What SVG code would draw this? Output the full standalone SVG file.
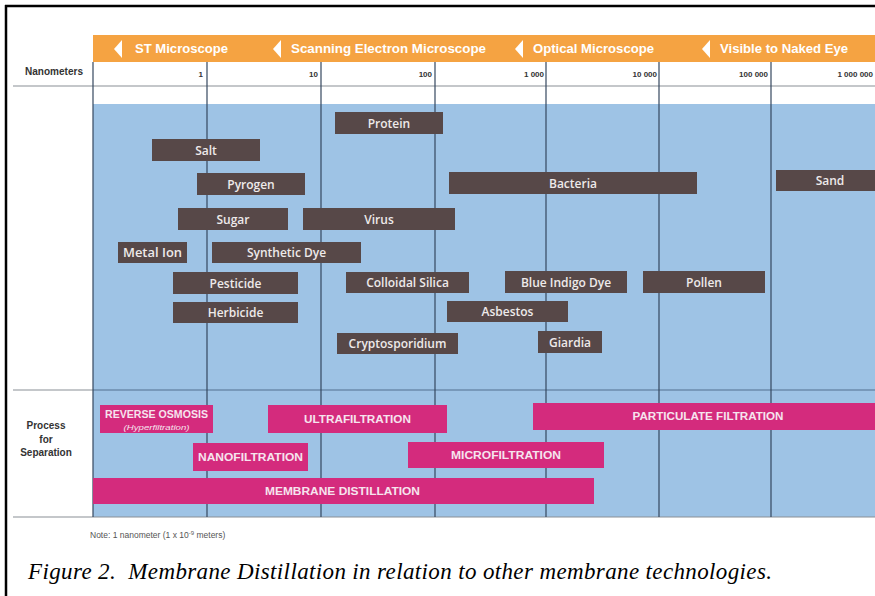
<svg xmlns="http://www.w3.org/2000/svg" width="875" height="596" viewBox="0 0 875 596">
  <defs>
    <style>
      .band { fill: #f5a342; }
      .bandtxt { font-family: "Liberation Sans", Arial, sans-serif; font-size: 12px; font-weight: bold; fill: #ffffff; }
      .tri { fill: #ffffff; }
      .tick { font-family: "Liberation Sans", Arial, sans-serif; font-size: 8px; font-weight: bold; fill: #333333; text-anchor: end; }
      .hdr { font-family: "Liberation Sans", Arial, sans-serif; font-size: 10px; font-weight: bold; fill: #333333; }
      .vl { stroke: #34475e; stroke-width: 1.2; }
      .hl { stroke: #8a8f96; stroke-width: 1.2; }
      .dark rect { fill: #574848; }
      .dark text { font-family: "Open Sans", "Liberation Sans", sans-serif; font-size: 12px; font-weight: 600; fill: #eeeaea; text-anchor: middle; }
      .proc rect { fill: #d42b7d; }
      .proc text { font-family: "Liberation Sans", Arial, sans-serif; font-size: 10.5px; font-weight: bold; fill: #f6e4ee; text-anchor: middle; }
      .note { font-family: "Liberation Sans", Arial, sans-serif; font-size: 8.5px; fill: #555555; }
      .cap { font-family: "Liberation Serif", "Times New Roman", Times, serif; font-size: 23px; font-style: italic; fill: #000000; }
    </style>
  </defs>

  <rect x="0" y="0" width="875" height="596" fill="#ffffff"/>

  <!-- frame -->
  <g id="frame">
    <line x1="5" y1="6" x2="875" y2="6" stroke="#000" stroke-width="2.5"/>
    <line x1="6" y1="5" x2="6" y2="596" stroke="#000" stroke-width="2.5"/>
  </g>

  <!-- orange microscope band -->
  <g id="band">
    <rect class="band" x="93" y="35" width="782" height="27"/>
    <polygon class="tri" points="122,40 114,49 122,58"/>
    <text class="bandtxt" x="135" y="53" textLength="93" lengthAdjust="spacingAndGlyphs">ST Microscope</text>
    <polygon class="tri" points="281,40 273,49 281,58"/>
    <text class="bandtxt" x="291" y="53" textLength="195" lengthAdjust="spacingAndGlyphs">Scanning Electron Microscope</text>
    <polygon class="tri" points="523,40 515,49 523,58"/>
    <text class="bandtxt" x="533" y="53" textLength="121" lengthAdjust="spacingAndGlyphs">Optical Microscope</text>
    <polygon class="tri" points="710,40 702,49 710,58"/>
    <text class="bandtxt" x="720" y="53" textLength="128" lengthAdjust="spacingAndGlyphs">Visible to Naked Eye</text>
  </g>

  <!-- blue field -->
  <rect id="field" x="93" y="104" width="782" height="413" fill="#9ec3e5"/>

  <!-- grid lines (no connectors in this chart) -->
  <g id="connectors">
    <line class="hl" x1="13" y1="86" x2="875" y2="86"/>
    <line class="hl" x1="13" y1="390" x2="93" y2="390"/>
    <line x1="93" y1="390" x2="875" y2="390" stroke="#52708f" stroke-width="1.2"/>
    <line class="hl" x1="13" y1="517" x2="875" y2="517"/>
    <line class="vl" x1="93" y1="62" x2="93" y2="517"/>
    <line class="vl" x1="207" y1="62" x2="207" y2="517"/>
    <line class="vl" x1="321" y1="62" x2="321" y2="517"/>
    <line class="vl" x1="435" y1="62" x2="435" y2="517"/>
    <line class="vl" x1="546" y1="62" x2="546" y2="517"/>
    <line class="vl" x1="659" y1="62" x2="659" y2="517"/>
    <line class="vl" x1="771" y1="62" x2="771" y2="517"/>
  </g>

  <!-- scale -->
  <g id="scale">
    <text class="hdr" x="25" y="75" textLength="58" lengthAdjust="spacingAndGlyphs">Nanometers</text>
    <text class="tick" x="203" y="77">1</text>
    <text class="tick" x="318" y="77">10</text>
    <text class="tick" x="432" y="77">100</text>
    <text class="tick" x="544" y="77">1 000</text>
    <text class="tick" x="657" y="77">10 000</text>
    <text class="tick" x="768" y="77">100 000</text>
    <text class="tick" x="873" y="77">1 000 000</text>
  </g>

  <!-- particles -->
  <g class="dark">
    <g id="protein"><rect x="335" y="112" width="108" height="22"/><text x="389" y="127.5">Protein</text></g>
    <g id="salt"><rect x="152" y="139" width="108" height="22"/><text x="206" y="154.5">Salt</text></g>
    <g id="pyrogen"><rect x="197" y="173" width="108" height="22"/><text x="251" y="188.5">Pyrogen</text></g>
    <g id="bacteria"><rect x="449" y="172" width="248" height="22"/><text x="573" y="187.5">Bacteria</text></g>
    <g id="sand"><rect x="776" y="170" width="99" height="21"/><text x="830" y="185">Sand</text></g>
    <g id="sugar"><rect x="178" y="208" width="110" height="22"/><text x="233" y="223.5">Sugar</text></g>
    <g id="virus"><rect x="303" y="208" width="152" height="22"/><text x="379" y="223.5">Virus</text></g>
    <g id="metal-ion"><rect x="118" y="242" width="69" height="21"/><text x="152.5" y="257" textLength="59" lengthAdjust="spacingAndGlyphs">Metal Ion</text></g>
    <g id="synthetic-dye"><rect x="212" y="242" width="149" height="21"/><text x="286.5" y="257">Synthetic Dye</text></g>
    <g id="pesticide"><rect x="173" y="272" width="125" height="22"/><text x="235.5" y="287.5">Pesticide</text></g>
    <g id="colloidal-silica"><rect x="346" y="272" width="123" height="21"/><text x="407.5" y="287">Colloidal Silica</text></g>
    <g id="blue-indigo-dye"><rect x="505" y="271" width="122" height="22"/><text x="566" y="286.5">Blue Indigo Dye</text></g>
    <g id="pollen"><rect x="643" y="271" width="122" height="22"/><text x="704" y="286.5">Pollen</text></g>
    <g id="herbicide"><rect x="173" y="302" width="125" height="21"/><text x="235.5" y="317">Herbicide</text></g>
    <g id="asbestos"><rect x="447" y="301" width="121" height="21"/><text x="507.5" y="316">Asbestos</text></g>
    <g id="cryptosporidium"><rect x="337" y="333" width="121" height="21"/><text x="397.5" y="348">Cryptosporidium</text></g>
    <g id="giardia"><rect x="538" y="331" width="64" height="22"/><text x="570" y="346.5">Giardia</text></g>
  </g>

  <!-- process label -->
  <g id="process-label" class="hdr">
    <text x="46" y="429" text-anchor="middle">Process</text>
    <text x="46" y="443" text-anchor="middle">for</text>
    <text x="46" y="456" text-anchor="middle">Separation</text>
  </g>

  <!-- processes -->
  <g class="proc">
    <g id="reverse-osmosis">
      <rect x="100" y="405" width="113" height="28"/>
      <text x="156.5" y="418" textLength="103" lengthAdjust="spacingAndGlyphs">REVERSE OSMOSIS</text>
      <text x="156.5" y="430" style="font-size:6.5px;font-weight:normal;font-style:italic" textLength="66" lengthAdjust="spacingAndGlyphs">(Hyperfiltration)</text>
    </g>
    <g id="ultrafiltration">
      <rect x="268" y="405" width="179" height="28"/>
      <text x="357.5" y="422.5" textLength="107" lengthAdjust="spacingAndGlyphs">ULTRAFILTRATION</text>
    </g>
    <g id="particulate-filtration">
      <rect x="533" y="403" width="342" height="27"/>
      <text x="708" y="420" textLength="151" lengthAdjust="spacingAndGlyphs">PARTICULATE FILTRATION</text>
    </g>
    <g id="nanofiltration">
      <rect x="193" y="443" width="115" height="28"/>
      <text x="250.5" y="461" textLength="105" lengthAdjust="spacingAndGlyphs">NANOFILTRATION</text>
    </g>
    <g id="microfiltration">
      <rect x="408" y="442" width="196" height="26"/>
      <text x="506" y="459" textLength="110" lengthAdjust="spacingAndGlyphs">MICROFILTRATION</text>
    </g>
    <g id="membrane-distillation">
      <rect x="93" y="478" width="501" height="26"/>
      <text x="342.5" y="495" textLength="155" lengthAdjust="spacingAndGlyphs">MEMBRANE DISTILLATION</text>
    </g>
  </g>

  <!-- note and caption -->
  <text id="note" class="note" x="90" y="538">Note: 1 nanometer (1 x 10<tspan dy="-3" font-size="6">-9</tspan><tspan dy="3"> meters)</tspan></text>
  <text id="caption" class="cap" x="28" y="579" textLength="744" lengthAdjust="spacing" xml:space="preserve">Figure 2.  Membrane Distillation in relation to other membrane technologies.</text>
</svg>
